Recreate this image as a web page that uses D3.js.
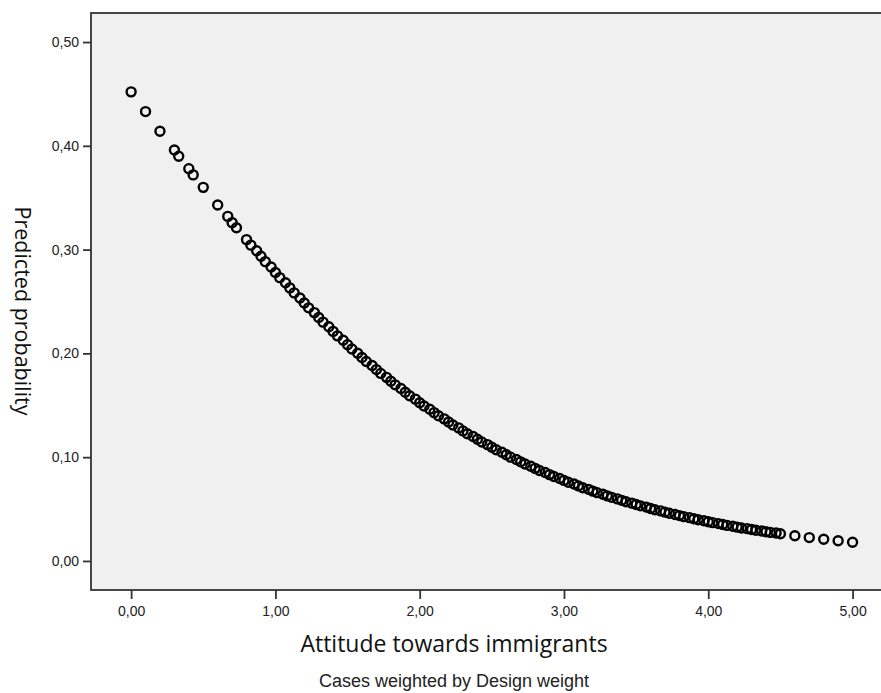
<!DOCTYPE html>
<html>
<head>
<meta charset="utf-8">
<script src="https://cdn.jsdelivr.net/npm/d3@7"></script>
<style>
  body { margin: 0; background: #fff; }
  svg { display: block; }
</style>
</head>
<body>
<div id="chart"></div>
<script>
// attitude score (x) and predicted probability (y)
const attitude = [
  0.00, 0.10, 0.20, 0.30, 0.33, 0.40, 0.43, 0.50, 0.60, 0.67, 0.70, 0.73,
  0.80, 0.83, 0.87, 0.90, 0.93, 0.97, 1.00, 1.03, 1.07, 1.10, 1.13, 1.17,
  1.20, 1.23, 1.27, 1.30, 1.33, 1.37, 1.40, 1.43, 1.47, 1.50, 1.53, 1.57,
  1.60, 1.63, 1.67, 1.70, 1.73, 1.77, 1.80, 1.83, 1.87, 1.90, 1.93, 1.97,
  2.00, 2.03, 2.07, 2.10, 2.13, 2.17, 2.20, 2.23, 2.27, 2.30, 2.33, 2.37,
  2.40, 2.43, 2.47, 2.50, 2.53, 2.57, 2.60, 2.63, 2.67, 2.70, 2.73, 2.77,
  2.80, 2.83, 2.87, 2.90, 2.93, 2.97, 3.00, 3.03, 3.07, 3.10, 3.13, 3.17,
  3.20, 3.23, 3.27, 3.30, 3.33, 3.37, 3.40, 3.43, 3.47, 3.50, 3.53, 3.57,
  3.60, 3.63, 3.67, 3.70, 3.73, 3.77, 3.80, 3.83, 3.87, 3.90, 3.93, 3.97,
  4.00, 4.03, 4.07, 4.10, 4.13, 4.17, 4.20, 4.23, 4.27, 4.30, 4.33, 4.37,
  4.40, 4.43, 4.47, 4.50, 4.60, 4.70, 4.80, 4.90, 5.00
];
const probability = [
  0.452, 0.433, 0.414, 0.396, 0.390, 0.378, 0.372, 0.360, 0.343, 0.332, 0.326, 0.321,
  0.3096, 0.3043, 0.2989, 0.2936, 0.2884, 0.2832, 0.2780, 0.2730, 0.2680, 0.2631, 0.2583, 0.2534,
  0.2486, 0.2439, 0.2393, 0.2346, 0.2301, 0.2257, 0.2212, 0.2169, 0.2127, 0.2084, 0.2043, 0.2002,
  0.1961, 0.1922, 0.1883, 0.1844, 0.1807, 0.1769, 0.1732, 0.1697, 0.1661, 0.1626, 0.1592, 0.1559,
  0.1525, 0.1493, 0.1461, 0.1429, 0.1399, 0.1369, 0.1339, 0.1310, 0.1282, 0.1253, 0.1226, 0.1199,
  0.1172, 0.1146, 0.1121, 0.1095, 0.1071, 0.1047, 0.1023, 0.1000, 0.0978, 0.0955, 0.0934, 0.0913,
  0.0892, 0.0872, 0.0852, 0.0832, 0.0813, 0.0795, 0.0776, 0.0758, 0.0741, 0.0723, 0.0706, 0.0690,
  0.0673, 0.0658, 0.0642, 0.0627, 0.0613, 0.0598, 0.0584, 0.0571, 0.0557, 0.0544, 0.0531, 0.0519,
  0.0506, 0.0494, 0.0482, 0.0470, 0.0459, 0.0448, 0.0437, 0.0427, 0.0417, 0.0407, 0.0397, 0.0388,
  0.0378, 0.0369, 0.0360, 0.0351, 0.0343, 0.0334, 0.0326, 0.0318, 0.0311, 0.0303, 0.0296, 0.0289,
  0.0282, 0.0275, 0.0269, 0.0262, 0.0243, 0.0225, 0.0209, 0.0194, 0.0180
];
const xTicks = [0, 1, 2, 3, 4, 5];
const yTicks = [0, 0.1, 0.2, 0.3, 0.4, 0.5];

const W = 881, H = 693;
const margin = { top: 13, right: -1, bottom: 103, left: 91 };
const width = W - margin.left - margin.right;
const height = H - margin.top - margin.bottom;

const svg = d3.select("#chart").append("svg")
  .attr("width", W)
  .attr("height", H);

const g = svg.append("g")
  .attr("transform", `translate(${margin.left},${margin.top})`);

const x = d3.scaleLinear().domain([-0.278, 5.204]).range([0, width]);
const y = d3.scaleLinear().domain([-0.0280, 0.5280]).range([height, 0]);

const fmt = d => d3.format(".2f")(d).replace(".", ",");

// plot background + frame
g.append("rect")
  .attr("width", width)
  .attr("height", height)
  .attr("fill", "#f0f0f0")
  .attr("stroke", "#333")
  .attr("stroke-width", 1.8);

// y axis
const yAxis = g.append("g")
  .call(d3.axisLeft(y).tickValues(yTicks).tickFormat(fmt).tickSize(8).tickPadding(4));
yAxis.select(".domain").remove();
yAxis.selectAll(".tick line").attr("stroke", "#333").attr("stroke-width", 1.8);
yAxis.selectAll(".tick text")
  .attr("fill", "#222")
  .style("font-family", "'Liberation Sans', Arial, sans-serif")
  .style("font-size", "14px");

// x axis
const xAxis = g.append("g")
  .attr("transform", `translate(0,${height})`)
  .call(d3.axisBottom(x).tickValues(xTicks).tickFormat(fmt).tickSize(9).tickPadding(7));
xAxis.select(".domain").remove();
xAxis.selectAll(".tick line").attr("stroke", "#333").attr("stroke-width", 1.8);
xAxis.selectAll(".tick text")
  .attr("fill", "#222")
  .style("font-family", "'Liberation Sans', Arial, sans-serif")
  .style("font-size", "14px");

// points
const points = attitude.map((a, i) => ({ a, p: probability[i] }));
g.append("g")
  .selectAll("circle")
  .data(points)
  .enter()
  .append("circle")
  .attr("cx", d => x(d.a))
  .attr("cy", d => y(d.p))
  .attr("r", 4.5)
  .attr("fill", "none")
  .attr("stroke", "#000")
  .attr("stroke-width", 2.4);

// axis titles
svg.append("text")
  .attr("x", 454)
  .attr("y", 652)
  .attr("text-anchor", "middle")
  .attr("fill", "#111")
  .style("font-family", "'Open Sans', 'Noto Sans', sans-serif")
  .style("font-size", "23px")
  .text("Attitude towards immigrants");

svg.append("text")
  .attr("transform", "translate(15,311) rotate(90)")
  .attr("text-anchor", "middle")
  .attr("fill", "#111")
  .style("font-family", "'Open Sans', 'Noto Sans', sans-serif")
  .style("font-size", "21.5px")
  .text("Predicted probability");

svg.append("text")
  .attr("x", 454)
  .attr("y", 687)
  .attr("text-anchor", "middle")
  .attr("fill", "#222")
  .style("font-family", "'Liberation Sans', Arial, sans-serif")
  .style("font-size", "18px")
  .text("Cases weighted by Design weight");
</script>
</body>
</html>
